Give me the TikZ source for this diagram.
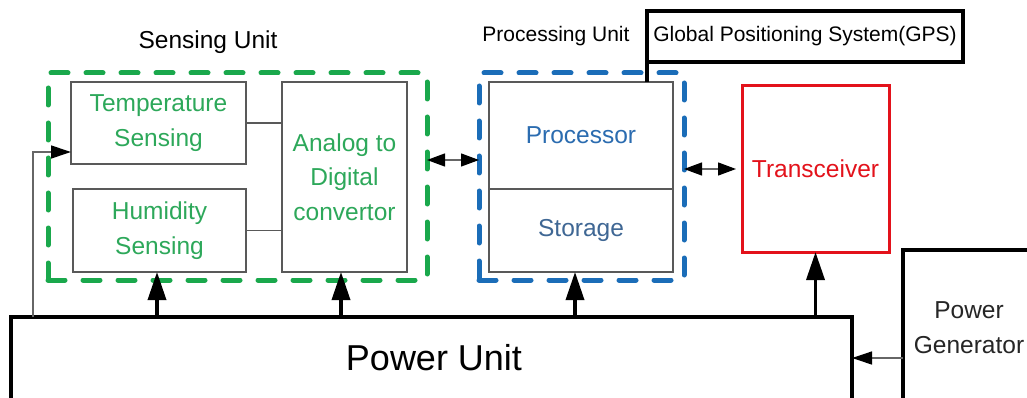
\documentclass[tikz,border=0pt]{standalone}
\usepackage{fontspec}
\setmainfont{Liberation Sans}
\usetikzlibrary{arrows.meta}
\definecolor{sgreen}{HTML}{1AA84C}
\definecolor{tgreen}{HTML}{2DA85A}
\definecolor{sblue}{HTML}{1B6DB8}
\definecolor{tblue}{HTML}{2B6CB0}
\definecolor{stblue}{HTML}{3F6794}
\definecolor{tred}{HTML}{E3121B}
\tikzset{
  every node/.style={inner sep=0pt, outer sep=0pt},
  txt/.style={font=\fontsize{24.5}{34.5}\selectfont, align=center},
  inbox/.style={txt, draw=black!65, line width=1.2pt},
  gdash/.style={draw=sgreen, line width=5pt, line cap=round, dash pattern=on 17pt off 18pt},
  bdash/.style={draw=sblue, line width=5pt, line cap=round, dash pattern=on 17pt off 18pt},
  thickbox/.style={draw=black, line width=3.5pt},
  pwr/.style={line width=3.5pt, -{Triangle[length=28pt,width=18pt]}},
  dbl/.style={draw=black!60, line width=1.3pt, {Triangle[length=18pt,width=13pt,fill=black,color=black]}-{Triangle[length=18pt,width=13pt,fill=black,color=black]}},
  thinarr/.style={draw=black!60, line width=1.3pt, -{Triangle[length=20pt,width=13pt,fill=black,color=black]}},
}
\begin{document}
\begin{tikzpicture}[x=1pt,y=-1pt]
\useasboundingbox (0,0) rectangle (1027,398);
\clip (0,0) rectangle (1027,398);
\fill[white] (0,0) rectangle (1027,398);

% Sensing unit
\node[gdash, minimum width=379pt, minimum height=207pt] (sense) at (237.5,176.5) {};
\node[txt] (senselbl) at (208,42) {Sensing Unit};
\node[inbox, text=tgreen, minimum width=175pt, minimum height=82pt] (temp) at (158.5,123) {Temperature\\Sensing};
\node[inbox, text=tgreen, minimum width=173pt, minimum height=83pt] (hum) at (159.5,230.5) {Humidity\\Sensing};
\node[inbox, text=tgreen, minimum width=125pt, minimum height=190pt] (adc) at (344.5,177) {Analog to\\Digital\\convertor};
\draw[draw=black!65, line width=1.2pt] (temp.east) -- (temp.east -| adc.west);
\draw[draw=black!65, line width=1.2pt] (hum.east) -- (hum.east -| adc.west);

% Processing unit
\node[bdash, minimum width=205pt, minimum height=207pt] (procu) at (581.5,176.5) {};
\node[txt, font=\fontsize{21}{25}\selectfont] (proclbl) at (556,36) {Processing Unit};
\node[inbox, text=tblue, minimum width=184pt, minimum height=107pt] (proc) at (581,135.5) {Processor};
\node[inbox, text=stblue, minimum width=184pt, minimum height=83pt] (stor) at (581,230.5) {Storage};

% GPS
\node[thickbox, txt, font=\fontsize{21}{25}\selectfont, minimum width=316pt, minimum height=51pt] (gps) at (805,36.5) {Global Positioning System(GPS)};
\draw[line width=3.5pt] (gps.south west) -- (gps.south west |- proc.north);

% Transceiver
\node[txt, draw=tred, line width=3pt, text=tred, minimum width=147pt, minimum height=166pt] (trans) at (815.5,169) {Transceiver};

% Power unit
\node[thickbox, minimum width=841pt, minimum height=90pt] (power) at (431.5,362) {};
\node[font=\fontsize{36}{40}\selectfont] (powerlbl) at (434,358) {Power Unit};

% Power generator
\node[thickbox, txt, text=black!85, minimum width=132pt, minimum height=155pt] (gen) at (969,327.5) {Power\\Generator};

% power arrows
\draw[pwr] ([xshift=-2.5pt]hum.south |- power.north) -- ([xshift=-2.5pt]hum.south);
\draw[pwr] ([xshift=-3.5pt]adc.south |- power.north) -- ([xshift=-3.5pt]adc.south);
\draw[pwr] ([xshift=-6pt]stor.south |- power.north) -- ([xshift=-6pt]stor.south);
\draw[pwr] (trans.south |- power.north) -- (trans.south);

% feedback to temperature sensing
\draw[thinarr] ([xshift=22pt]power.north west) |- ([yshift=-29pt]temp.west);

% bidirectional links
\draw[dbl] ([yshift=16.5pt]sense.east) -- ([yshift=16.5pt]procu.west);
\draw[dbl, shorten >=6pt] (procu.east |- trans.west) -- (trans.west);

% generator to power unit
\draw[thinarr] ([yshift=-30.5pt]gen.west) -- ([yshift=-30.5pt]gen.west -| power.east);
\end{tikzpicture}
\end{document}
